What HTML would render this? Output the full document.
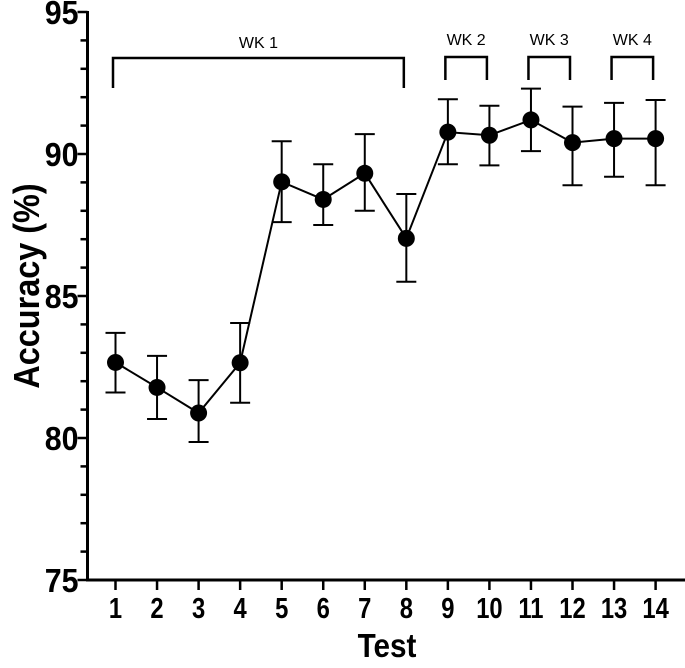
<!DOCTYPE html>
<html><head><meta charset="utf-8"><style>
body{margin:0;background:#fff;}
svg text{font-family:"Liberation Sans",Arial,sans-serif;}
</style></head><body>
<svg id="chart" width="685" height="663" xmlns="http://www.w3.org/2000/svg">
<g id="axes"></g>
<g id="marks"></g>
<text transform="translate(387,657) scale(0.9,1)" text-anchor="middle" font-size="33" font-weight="bold">Test</text>
<text transform="translate(39,286) rotate(-90) scale(0.9,1)" text-anchor="middle" font-size="36" font-weight="bold">Accuracy (%)</text>
</svg>
<script>
const tests = [1,2,3,4,5,6,7,8,9,10,11,12,13,14];
const means = [82.66,81.78,80.88,82.65,89.02,88.4,89.32,87.03,90.77,90.66,91.2,90.4,90.54,90.54];
const upper = [83.7,82.89,82.04,84.05,90.45,89.64,90.7,88.59,91.93,91.7,92.3,91.67,91.8,91.9];
const lower = [81.6,80.67,79.86,81.24,87.6,87.5,88.0,85.5,89.64,89.6,90.1,88.9,89.2,88.9];
const yTicks = [75,80,85,90,95];
const weekLabels = ["WK 1","WK 2","WK 3","WK 4"];
const weekStart = [1,9,11,13];
const weekEnd = [8,10,12,14];

const NS="http://www.w3.org/2000/svg";
const X0=87.5, Y0=580;
function xs(t){return 115.5+(t-1)*(655.6-115.5)/13;}
function ys(v){return 580-(v-75)*(580-12)/20;}
function mk(tag,attrs,parent){const e=document.createElementNS(NS,tag);for(const k in attrs)e.setAttribute(k,attrs[k]);parent.appendChild(e);return e;}
const axes=document.getElementById('axes'), marks=document.getElementById('marks');

let e=mk('line',{x1:X0,y1:ys(95)-1,x2:X0,y2:Y0+1.5,stroke:'#000','stroke-width':3},axes);


e=mk('line',{x1:X0-1.5,y1:Y0,x2:685,y2:Y0,stroke:'#000','stroke-width':3},axes);


for(let v=75;v<=95;v++){
  const major=yTicks.includes(v);
  e=mk('line',{x1:X0-(major?10:7),y1:ys(v),x2:X0,y2:ys(v),stroke:'#000','stroke-width':2.5},axes);
  
  
}
yTicks.forEach(v=>{
  const t=mk('text',{transform:`translate(${X0-9},${ys(v)+12}) scale(0.92,1)`,'text-anchor':'end','font-size':33,'font-weight':'bold'},axes);
  t.textContent=v;
  
  
});
tests.forEach(t=>{
  e=mk('line',{x1:xs(t),y1:Y0,x2:xs(t),y2:Y0+10,stroke:'#000','stroke-width':2.5},axes);
  
  
  const l=mk('text',{transform:`translate(${xs(t)},${Y0+38}) scale(0.82,1)`,'text-anchor':'middle','font-size':29,'font-weight':'bold'},axes);
  l.textContent=t;
  
  
});
weekLabels.forEach((lab,i)=>{
  const a=xs(weekStart[i])-2.5, b=xs(weekEnd[i])-2.5, top=i===0?58:57, bot=i===0?88:80;
  const p=mk('path',{d:`M${a},${bot} V${top} H${b} V${bot}`,fill:'none',stroke:'#000','stroke-width':2.5},axes);
  
  
  const t=mk('text',{x:(a+b)/2,y:top-(i===0?10:12),'text-anchor':'middle','font-size':16},axes);
  t.textContent=lab;
  
  
});
const pl=mk('polyline',{points:tests.map((t,i)=>xs(t)+','+ys(means[i])).join(' '),fill:'none',stroke:'#000','stroke-width':2},marks);


tests.forEach((t,i)=>{
  const x=xs(t);
  const g=mk('path',{d:`M${x},${ys(upper[i])} V${ys(lower[i])} M${x-10},${ys(upper[i])} H${x+10} M${x-10},${ys(lower[i])} H${x+10}`,stroke:'#000','stroke-width':2,fill:'none'},marks);
  
  
  const c=mk('circle',{cx:x,cy:ys(means[i]),r:8.5,fill:'#000'},marks);
  
  
});
</script>
</body></html>
